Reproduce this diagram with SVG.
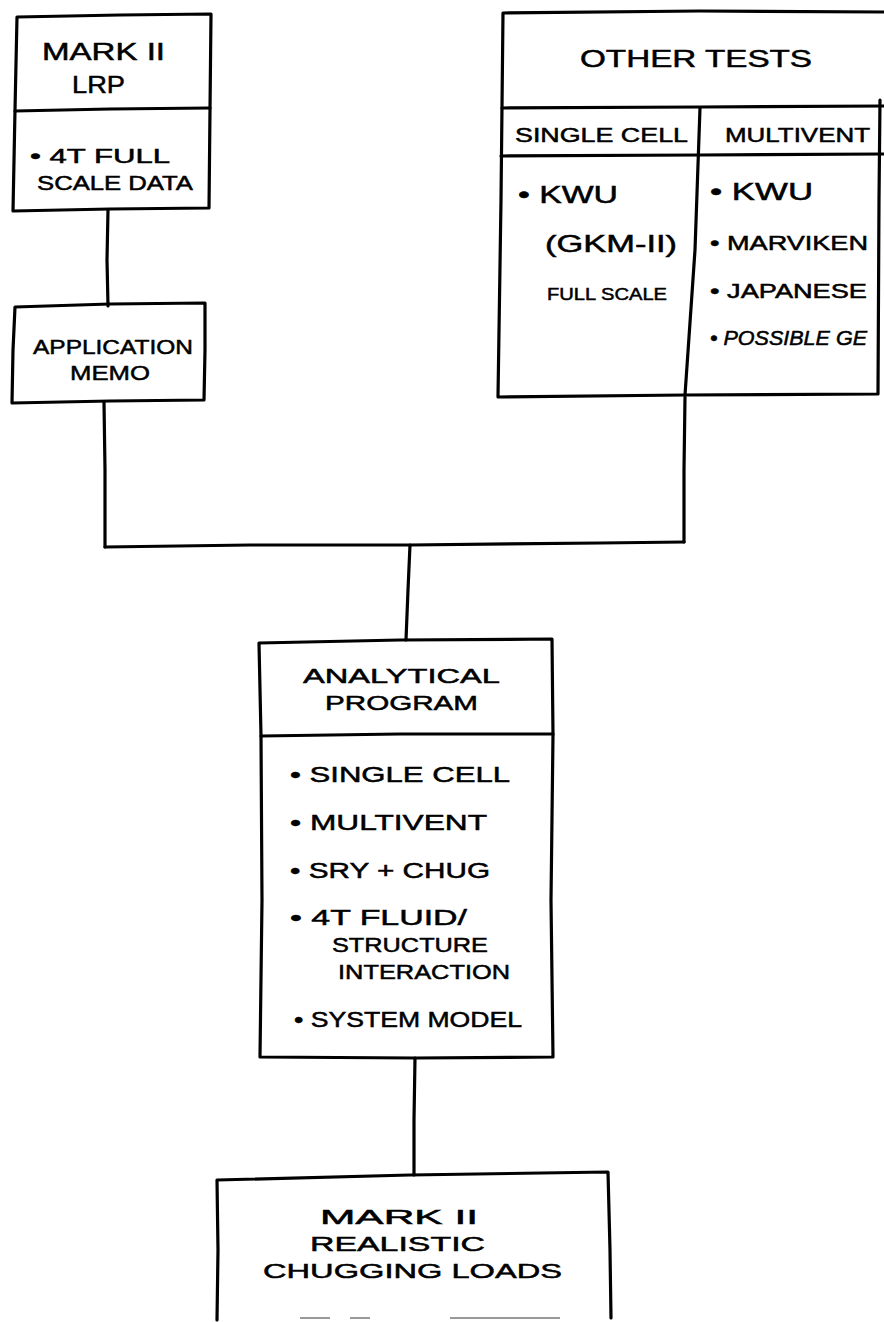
<svg xmlns="http://www.w3.org/2000/svg" width="884" height="1322" viewBox="0 0 884 1322">
<style>
.box{fill:none;stroke:#000;stroke-width:3.2;stroke-linejoin:round;stroke-linecap:round}
.con{fill:none;stroke:#000;stroke-width:3.2;stroke-linecap:round}
text{font-family:"Liberation Sans",Arial,sans-serif;fill:#000;stroke:#000;stroke-width:0.5;font-weight:normal}
.t{font-size:24px}
.m{font-size:21px}
.s{font-size:20px}
.xs{font-size:17px}
.b{font-size:22px}
</style>
<rect width="884" height="1322" fill="#fff"/>
<g id="connectors">
<path class="con" d="M108 210 L107 260 L108 306"/>
<path class="con" d="M104 402 L105 470 L105 547"/>
<path class="con" d="M105 547 L250 545 L410 545 L600 543 L684 542"/>
<path class="con" d="M685 397 L684 470 L684 542"/>
<path class="con" d="M410 545 L408 590 L406 640"/>
<path class="con" d="M415 1058 L414 1120 L414 1175"/>
</g>
<g id="mark2lrp">
<path class="box" d="M17 17 L120 15 L211 14 L210 110 L209 208 L110 209 L13 211 L15 110 Z"/>
<path class="box" d="M15 111 L110 109 L210 108"/>
<text class="t" x="42" y="60" textLength="123" lengthAdjust="spacingAndGlyphs">MARK II</text>
<text class="t" x="72" y="93" textLength="53" lengthAdjust="spacingAndGlyphs">LRP</text>
<text class="s" x="30" y="163" textLength="140" lengthAdjust="spacingAndGlyphs">• 4T FULL</text>
<text class="s" x="37" y="190" textLength="156" lengthAdjust="spacingAndGlyphs">SCALE DATA</text>
</g>
<g id="appmemo">
<path class="box" d="M15 307 L110 304 L205 303 L205 350 L204 400 L110 401 L12 403 L13 350 Z"/>
<text class="m" x="33" y="354" textLength="160" lengthAdjust="spacingAndGlyphs">APPLICATION</text>
<text class="m" x="70" y="380" textLength="80" lengthAdjust="spacingAndGlyphs">MEMO</text>
</g>
<g id="othertests">
<path class="box" d="M884 12 L700 11 L503 13 L501 200 L498 397 L685 395 L878 394 L879 200 L880 100"/>
<path class="box" d="M502 108 L700 107 L884 106"/>
<path class="box" d="M501 156 L700 155 L884 154"/>
<path class="box" d="M700 108 L695 250 L685 395"/>
<text class="t" x="580" y="67" font-size="28" textLength="232" lengthAdjust="spacingAndGlyphs">OTHER TESTS</text>
<text class="s" x="515" y="142" textLength="173" lengthAdjust="spacingAndGlyphs">SINGLE CELL</text>
<text class="s" x="725" y="142" textLength="145" lengthAdjust="spacingAndGlyphs">MULTIVENT</text>
<text class="t" x="518" y="203" textLength="100" lengthAdjust="spacingAndGlyphs">•  KWU</text>
<text class="t" x="545" y="252" textLength="132" lengthAdjust="spacingAndGlyphs">(GKM-II)</text>
<text class="xs" x="547" y="300" textLength="120" lengthAdjust="spacingAndGlyphs">FULL SCALE</text>
<text class="t" x="710" y="200" textLength="103" lengthAdjust="spacingAndGlyphs">•  KWU</text>
<text class="s" x="710" y="250" textLength="158" lengthAdjust="spacingAndGlyphs">• MARVIKEN</text>
<text class="s" x="710" y="298" textLength="157" lengthAdjust="spacingAndGlyphs">• JAPANESE</text>
<text class="s" x="710" y="345" font-style="italic" textLength="157" lengthAdjust="spacingAndGlyphs">• POSSIBLE GE</text>
</g>
<g id="analytical">
<path class="box" d="M259 643 L400 640 L552 639 L553 735 L551 900 L553 1057 L415 1058 L260 1057 L262 900 L261 736 Z"/>
<path class="box" d="M261 736 L400 734 L553 734"/>
<text class="m" x="303" y="683" textLength="197" lengthAdjust="spacingAndGlyphs">ANALYTICAL</text>
<text class="m" x="325" y="710" textLength="153" lengthAdjust="spacingAndGlyphs">PROGRAM</text>
<text class="b" x="290" y="782" textLength="220" lengthAdjust="spacingAndGlyphs">• SINGLE CELL</text>
<text class="b" x="290" y="830" textLength="197" lengthAdjust="spacingAndGlyphs">• MULTIVENT</text>
<text class="b" x="290" y="878" textLength="200" lengthAdjust="spacingAndGlyphs">• SRY + CHUG</text>
<text class="b" x="290" y="925" textLength="177" lengthAdjust="spacingAndGlyphs">• 4T  FLUID/</text>
<text class="m" x="332" y="952" textLength="156" lengthAdjust="spacingAndGlyphs">STRUCTURE</text>
<text class="m" x="338" y="979" textLength="172" lengthAdjust="spacingAndGlyphs">INTERACTION</text>
<text class="b" x="294" y="1027" textLength="228" lengthAdjust="spacingAndGlyphs">• SYSTEM MODEL</text>
</g>
<g id="loads">
<path class="box" d="M217 1320 L218 1250 L217 1180 L410 1175 L608 1172 L610 1250 L611 1318"/>
<path d="M300 1318 L330 1318 M350 1318 L370 1318 M450 1318 L560 1318" fill="none" stroke="#999" stroke-width="2"/>
<text class="m" x="320" y="1224" textLength="158" lengthAdjust="spacingAndGlyphs">MARK II</text>
<text class="m" x="310" y="1251" textLength="175" lengthAdjust="spacingAndGlyphs">REALISTIC</text>
<text class="m" x="263" y="1278" textLength="299" lengthAdjust="spacingAndGlyphs">CHUGGING LOADS</text>
</g>
</svg>
